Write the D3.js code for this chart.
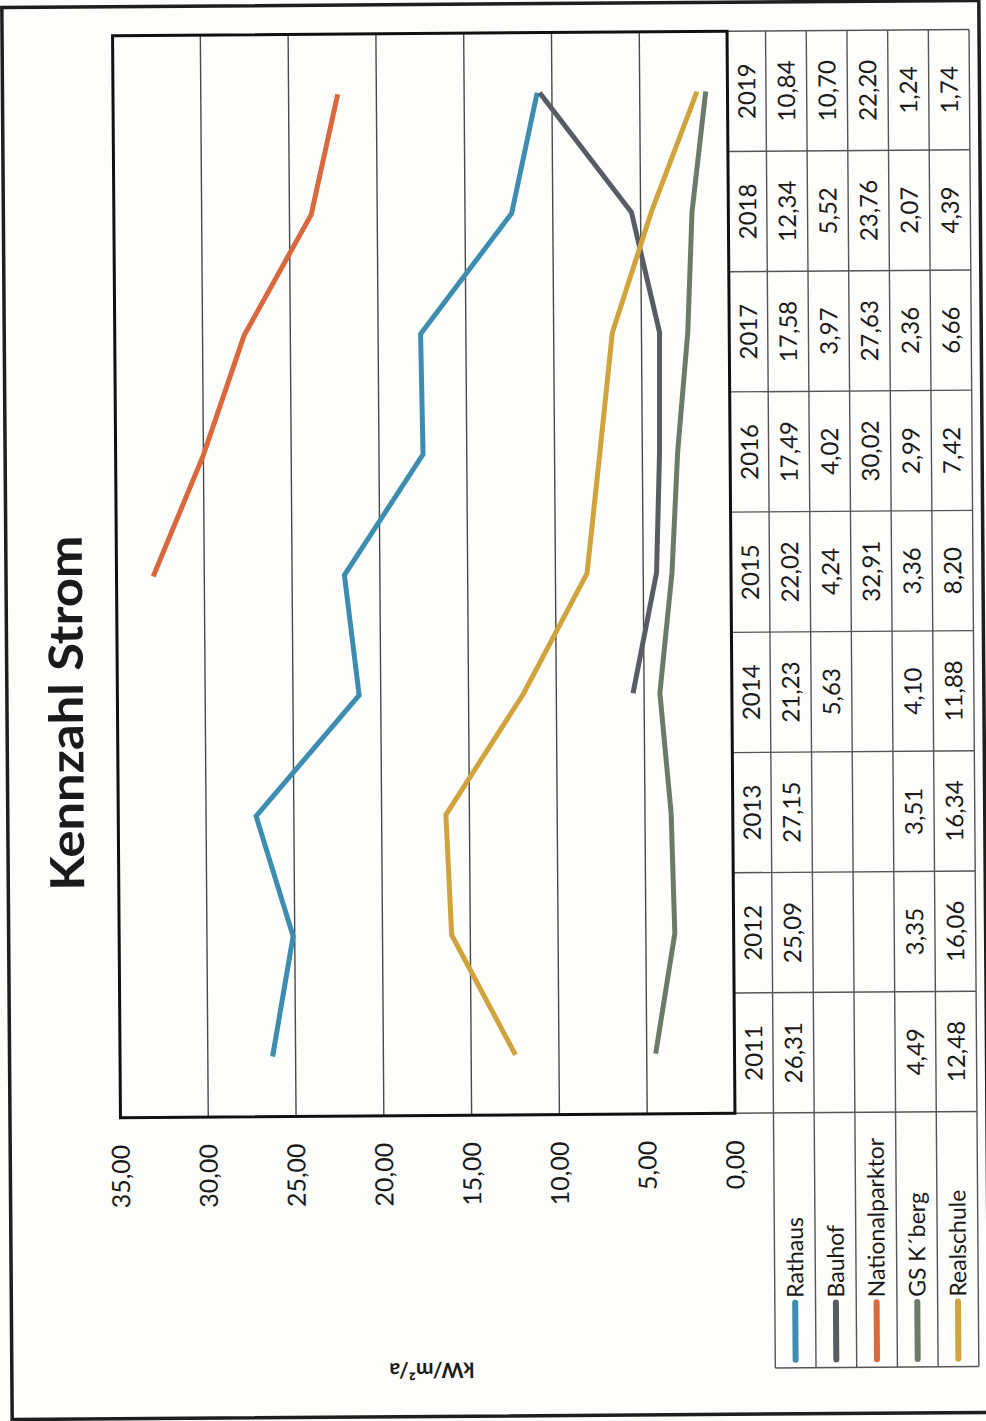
<!DOCTYPE html>
<html><head><meta charset="utf-8">
<script src="https://cdn.jsdelivr.net/npm/d3@7/dist/d3.min.js"></script>
<style>html,body{margin:0;padding:0;background:#fdfdfb;} svg{display:block;}</style>
</head><body>
<script>
const years = ["2011","2012","2013","2014","2015","2016","2017","2018","2019"];
const seriesNames = ["Rathaus","Bauhof","Nationalparktor","GS K´berg","Realschule"];
const rathaus = [26.31,25.09,27.15,21.23,22.02,17.49,17.58,12.34,10.84];
const bauhof = [null,null,null,5.63,4.24,4.02,3.97,5.52,10.70];
const nationalparktor = [null,null,null,null,32.91,30.02,27.63,23.76,22.20];
const gsKberg = [4.49,3.35,3.51,4.10,3.36,2.99,2.36,2.07,1.24];
const realschule = [12.48,16.06,16.34,11.88,8.20,7.42,6.66,4.39,1.74];
const colors = ["#3d8db0","#595c62","#d9693c","#6b7a6b","#d1a33d"];
const yTicks = [0,5,10,15,20,25,30,35];
const title = "Kennzahl Strom";
const axisTitle = "kW/m²/a";

const seriesValues = [rathaus,bauhof,nationalparktor,gsKberg,realschule];
const fmt = v => v == null ? "" : v.toFixed(2).replace(".", ",");

const W = 986, H = 1421;
const svg = d3.select("body").append("svg").attr("width", W).attr("height", H);
svg.append("rect").attr("width", W).attr("height", H).attr("fill", "#fdfdfb");

const desk = svg.append("g").attr("transform", "rotate(-0.42,493,710)");
desk.append("rect").attr("x", 7).attr("y", 4).attr("width", 977).attr("height", 1412)
  .attr("fill", "none").attr("stroke", "#1e1e1e").attr("stroke-width", 3.5);

// unrotated chart coordinates: u (horizontal, 0..1421), v (vertical, 0..986)
const g = desk.append("g").attr("transform", "translate(0,1421) rotate(-90)");
const font = "Lato, 'DejaVu Sans', sans-serif";

const plotL = 306, plotR = 1388, plotT = 117.5, plotB = 732;
const x = d3.scaleBand().domain(years).range([plotL, plotR]);
const y = d3.scaleLinear().domain([0, 35]).range([plotB, plotT]);
const cx = d => x(d) + x.bandwidth() / 2;

// gridlines
g.append("g").selectAll("line").data(yTicks.filter(t => t > 0 && t < 35)).join("line")
  .attr("x1", plotL).attr("x2", plotR).attr("y1", d => y(d)).attr("y2", d => y(d))
  .attr("stroke", "#4a4a4a").attr("stroke-width", 1.4);

// tick labels
g.append("g").selectAll("text").data(yTicks).join("text")
  .attr("x", 279).attr("y", d => y(d)).attr("dy", "0.36em")
  .attr("text-anchor", "end").attr("font-family", font).attr("font-size", 25)
  .attr("fill", "#1a1a1a").text(d => d.toFixed(2).replace(".", ","));

// table
const rowTop = 770.5, rowH = 40.7, tableBottom = rowTop + rowH * 5;
const tbl = g.append("g").attr("stroke", "#555").attr("stroke-width", 1.4);
// vertical separators (year columns)
years.forEach((yr, i) => {
  const ux = x(yr) + x.bandwidth();
  tbl.append("line").attr("x1", ux).attr("x2", ux).attr("y1", plotB).attr("y2", tableBottom);
});
tbl.append("line").attr("x1", plotL).attr("x2", plotL).attr("y1", plotB).attr("y2", tableBottom);
// horizontal rows
for (let i = 0; i <= 5; i++) {
  const vy = rowTop + i * rowH;
  tbl.append("line").attr("x1", 51).attr("x2", plotR).attr("y1", vy).attr("y2", vy);
}
tbl.append("line").attr("x1", 51).attr("x2", 51).attr("y1", rowTop).attr("y2", tableBottom);

// header years
g.append("g").selectAll("text").data(years).join("text")
  .attr("x", d => cx(d)).attr("y", (plotB + rowTop) / 2).attr("dy", "0.36em")
  .attr("text-anchor", "middle").attr("font-family", font).attr("font-size", 24)
  .attr("fill", "#1a1a1a").text(d => d);

// values + legend
seriesValues.forEach((vals, si) => {
  const cyRow = rowTop + rowH * si + rowH / 2;
  g.append("g").selectAll("text").data(vals).join("text")
    .attr("x", (d, i) => cx(years[i])).attr("y", cyRow).attr("dy", "0.36em")
    .attr("text-anchor", "middle").attr("font-family", font).attr("font-size", 24)
    .attr("fill", "#1a1a1a").text(d => fmt(d));
  g.append("line").attr("x1", 59).attr("x2", 116).attr("y1", cyRow).attr("y2", cyRow)
    .attr("stroke", colors[si]).attr("stroke-width", 6).attr("stroke-linecap", "round");
  g.append("text").attr("x", 121).attr("y", cyRow).attr("dy", "0.36em")
    .attr("font-family", font).attr("font-size", 23).attr("fill", "#1a1a1a")
    .text(seriesNames[si]);
});

// series lines
const line = d3.line().defined(d => d.v != null).x(d => cx(d.yr)).y(d => y(d.v));
seriesValues.forEach((vals, si) => {
  g.append("path").datum(vals.map((v, i) => ({ yr: years[i], v })))
    .attr("d", line).attr("fill", "none").attr("stroke", colors[si])
    .attr("stroke-width", 5).attr("stroke-linejoin", "miter").attr("stroke-linecap", "butt");
});

// plot border
g.append("rect").attr("x", plotL).attr("y", plotT).attr("width", plotR - plotL).attr("height", plotB - plotT)
  .attr("fill", "none").attr("stroke", "#111").attr("stroke-width", 3);

// title
g.append("text").attr("x", 711).attr("y", 83).attr("text-anchor", "middle")
  .attr("font-family", font).attr("font-weight", "bold").attr("font-size", 47)
  .attr("textLength", 355).attr("lengthAdjust", "spacingAndGlyphs")
  .attr("fill", "#1a1a1a").text(title);

// axis title
g.append("text").attr("transform", "translate(51,427) rotate(-90)")
  .attr("text-anchor", "middle").attr("dy", "0.36em")
  .attr("font-family", font).attr("font-weight", "bold").attr("font-size", 21)
  .attr("fill", "#1a1a1a").text(axisTitle);
</script>
</body></html>
